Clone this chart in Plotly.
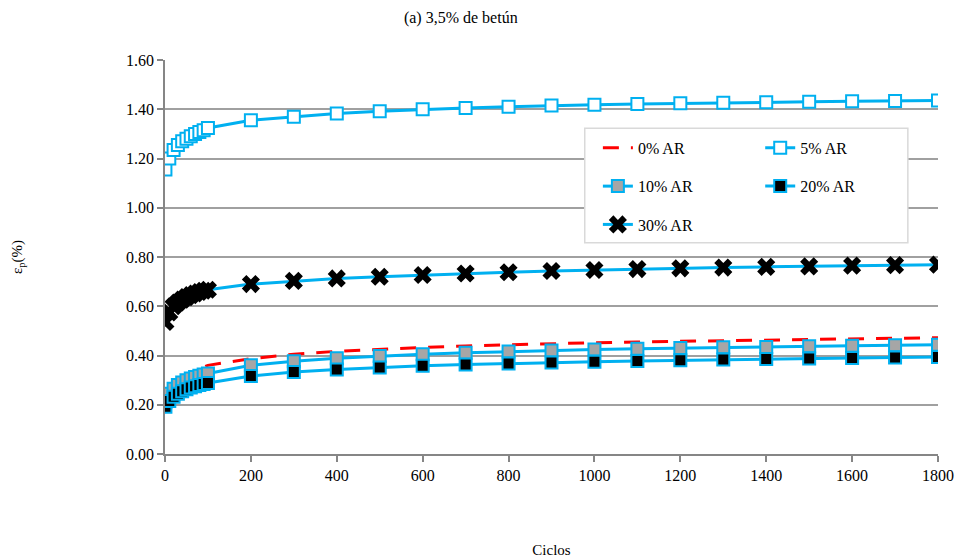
import plotly.graph_objects as go

ciclos = [1, 10, 20, 30, 40, 50, 60, 70, 80, 90, 100, 200, 300, 400, 500, 600, 700,
          800, 900, 1000, 1100, 1200, 1300, 1400, 1500, 1600, 1700, 1800]

ar0 = [0.21, 0.25, 0.275, 0.295, 0.31, 0.32, 0.33, 0.338, 0.345, 0.352, 0.360, 0.387,
       0.405, 0.417, 0.426, 0.433, 0.439, 0.444, 0.448, 0.452, 0.455, 0.458, 0.461,
       0.464, 0.466, 0.468, 0.470, 0.472]
ar5 = [1.155, 1.200, 1.235, 1.255, 1.270, 1.280, 1.290, 1.300, 1.308, 1.315, 1.324,
       1.355, 1.370, 1.383, 1.392, 1.400, 1.405, 1.410, 1.415, 1.418, 1.421, 1.424,
       1.426, 1.428, 1.430, 1.432, 1.434, 1.436]
ar10 = [0.212, 0.245, 0.265, 0.280, 0.290, 0.300, 0.307, 0.313, 0.318, 0.323, 0.327,
        0.360, 0.377, 0.389, 0.398, 0.405, 0.411, 0.416, 0.420, 0.424, 0.427, 0.430,
        0.433, 0.435, 0.438, 0.440, 0.442, 0.444]
ar20 = [0.192, 0.215, 0.232, 0.245, 0.255, 0.263, 0.270, 0.275, 0.280, 0.284, 0.288,
        0.317, 0.333, 0.343, 0.351, 0.358, 0.363, 0.368, 0.372, 0.375, 0.378, 0.381,
        0.384, 0.386, 0.388, 0.390, 0.392, 0.394]
ar30 = [0.536, 0.575, 0.600, 0.615, 0.627, 0.637, 0.645, 0.652, 0.658, 0.663, 0.667,
        0.690, 0.703, 0.713, 0.720, 0.727, 0.733, 0.738, 0.743, 0.747, 0.751, 0.754,
        0.757, 0.760, 0.762, 0.765, 0.767, 0.769]

names = ["0% AR", "5% AR", "10% AR", "20% AR", "30% AR"]

BLUE = "#00B0F0"
FONT = "Liberation Serif, Times New Roman, serif"

fig = go.Figure()

fig.add_trace(go.Scatter(
    x=ciclos, y=ar0, name=names[0], mode="lines",
    line=dict(color="#FF0000", width=3, dash="16px,12px"),
    legend="legend", legendgroup="g0"))
fig.add_trace(go.Scatter(
    x=ciclos, y=ar5, name=names[1], mode="lines+markers",
    line=dict(color=BLUE, width=3),
    marker=dict(symbol="square", size=12, color="white", line=dict(color=BLUE, width=2)),
    legend="legend2", legendgroup="g1"))
fig.add_trace(go.Scatter(
    x=ciclos, y=ar10, name=names[2], mode="lines+markers",
    line=dict(color=BLUE, width=3),
    marker=dict(symbol="square", size=12, color="#A6A6A6", line=dict(color=BLUE, width=2)),
    legend="legend", legendgroup="g2"))
fig.add_trace(go.Scatter(
    x=ciclos, y=ar20, name=names[3], mode="lines+markers",
    line=dict(color=BLUE, width=3),
    marker=dict(symbol="square", size=12, color="black", line=dict(color=BLUE, width=2)),
    legend="legend2", legendgroup="g3"))
fig.add_trace(go.Scatter(
    x=ciclos, y=ar30, name=names[4], mode="lines+markers",
    line=dict(color=BLUE, width=3),
    marker=dict(symbol="x", size=16, color="black", line=dict(width=0)),
    legend="legend", legendgroup="g4"))

legend_common = dict(
    bgcolor="rgba(0,0,0,0)", borderwidth=0,
    font=dict(family=FONT, size=16, color="black"),
    traceorder="grouped", tracegroupgap=14.5,
    xanchor="left", yanchor="top", orientation="v",
)

fig.update_layout(
    width=958, height=560,
    margin=dict(l=165, r=20, t=60, b=106),
    paper_bgcolor="white", plot_bgcolor="white",
    font=dict(family=FONT, size=15, color="black"),
    title=dict(text="(a) 3,5% de betún", x=0.481, xref="container", xanchor="center",
               y=1 - 17 / 560, yref="container", yanchor="middle",
               font=dict(family=FONT, size=16, color="black")),
    showlegend=True,
    legend=dict(x=0.56, y=0.82, **legend_common),
    legend2=dict(x=0.77, y=0.82, **legend_common),
    xaxis=dict(
        range=[0, 1800], dtick=200, tick0=0,
        showgrid=False, zeroline=False,
        showline=True, linecolor="#868686", linewidth=1.5,
        ticks="outside", ticklen=6, tickcolor="#868686", tickwidth=1.5,
        tickfont=dict(family=FONT, size=16),
        title=dict(text="Ciclos", standoff=62, font=dict(family=FONT, size=15)),
        automargin=False,
    ),
    yaxis=dict(
        range=[0, 1.6], dtick=0.2, tick0=0, tickformat=".2f",
        showgrid=True, gridcolor="#A0A0A0", gridwidth=1.5,
        zeroline=False,
        showline=True, linecolor="#868686", linewidth=1.5,
        ticks="outside", ticklen=6, tickcolor="#868686", tickwidth=1.5,
        tickfont=dict(family=FONT, size=16),
        title=dict(text="ε<sub>p</sub>(%)", standoff=100, font=dict(family=FONT, size=15)),
        automargin=False,
    ),
    shapes=[dict(type="rect", xref="paper", yref="paper",
                 x0=0.543, x1=0.961, y0=0.536, y1=0.827,
                 fillcolor="white", line=dict(color="#D9D9D9", width=1.5),
                 layer="above")],
)

fig.write_html("out.html")
